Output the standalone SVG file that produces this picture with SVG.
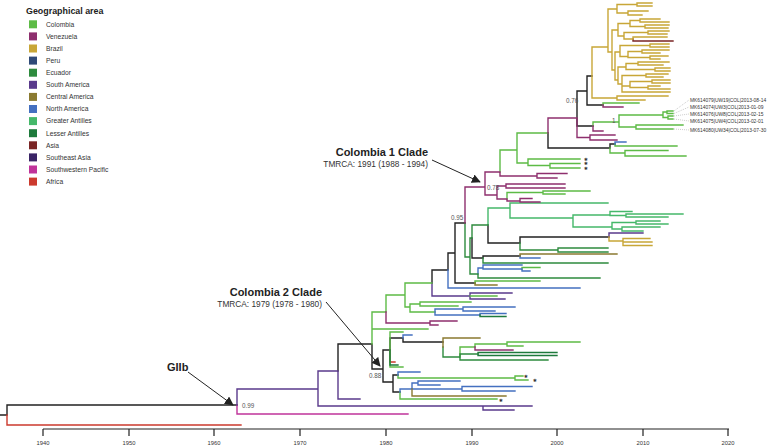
<svg xmlns="http://www.w3.org/2000/svg" width="778" height="446" viewBox="0 0 778 446">
<style>
.t{fill:none;stroke-width:1.4;stroke-linejoin:miter;stroke-linecap:square}
.k{stroke:#222}.r{stroke:#cc3a2e}.sp{stroke:#c0339a}.sa{stroke:#5a3a8c}.co{stroke:#5dbb46}.ga{stroke:#45b86a}.na{stroke:#4470c0}.ec{stroke:#2e8b3e}.la{stroke:#1e7a3c}.ve{stroke:#8e2f6e}.br{stroke:#c8a637}.as{stroke:#7a2525}.ca{stroke:#8a7a30}
text{font-family:"Liberation Sans",Arial,sans-serif}
.lt{font-size:8.9px;font-weight:bold;fill:#222}
.li{font-size:6.7px;fill:#333}
.sup{font-size:6.3px;fill:#555}
.ann{font-size:11px;font-weight:bold;fill:#222}
.tm{font-size:8.3px;fill:#333}
.mk{font-size:4.9px;fill:#333}
.ax{font-size:5.8px;fill:#333;text-anchor:middle}
.st{font-family:"DejaVu Sans",sans-serif;font-size:4.6px;fill:#333;text-anchor:middle}
.arr{stroke:#222;stroke-width:1;fill:none}
.dash{stroke:#999;stroke-width:0.5;stroke-dasharray:1 1;fill:none}
</style>
<defs>
<marker id="ah" viewBox="0 0 10 10" refX="9" refY="5" markerWidth="9" markerHeight="9" markerUnits="userSpaceOnUse" orient="auto"><path d="M0 0L10 5L0 10z" fill="#222"/></marker>
</defs>
<rect width="778" height="446" fill="#fff"/>
<g id="legend">
<text x="26" y="13.5" class="lt">Geographical area</text>
<g id="lg-colombia"><rect x="29" y="20.3" width="8" height="8" fill="#5dbb46"/><text x="46" y="26.6" class="li">Colombia</text></g>
<g id="lg-venezuela"><rect x="29" y="32.4" width="8" height="8" fill="#8e2f6e"/><text x="46" y="38.7" class="li">Venezuela</text></g>
<g id="lg-brazil"><rect x="29" y="44.5" width="8" height="8" fill="#c8a637"/><text x="46" y="50.8" class="li">Brazil</text></g>
<g id="lg-peru"><rect x="29" y="56.6" width="8" height="8" fill="#2f4a78"/><text x="46" y="62.9" class="li">Peru</text></g>
<g id="lg-ecuador"><rect x="29" y="68.7" width="8" height="8" fill="#2e8b3e"/><text x="46" y="75" class="li">Ecuador</text></g>
<g id="lg-southamerica"><rect x="29" y="80.8" width="8" height="8" fill="#5a3a8c"/><text x="46" y="87.1" class="li">South America</text></g>
<g id="lg-centralamerica"><rect x="29" y="92.9" width="8" height="8" fill="#8a7a30"/><text x="46" y="99.2" class="li">Central America</text></g>
<g id="lg-northamerica"><rect x="29" y="105" width="8" height="8" fill="#4470c0"/><text x="46" y="111.3" class="li">North America</text></g>
<g id="lg-greaterantilles"><rect x="29" y="117.1" width="8" height="8" fill="#45b86a"/><text x="46" y="123.4" class="li">Greater Antilles</text></g>
<g id="lg-lesserantilles"><rect x="29" y="129.2" width="8" height="8" fill="#1e7a3c"/><text x="46" y="135.5" class="li">Lesser Antilles</text></g>
<g id="lg-asia"><rect x="29" y="141.3" width="8" height="8" fill="#7a2525"/><text x="46" y="147.6" class="li">Asia</text></g>
<g id="lg-southeastasia"><rect x="29" y="153.4" width="8" height="8" fill="#3a2466"/><text x="46" y="159.7" class="li">Southeast Asia</text></g>
<g id="lg-swpacific"><rect x="29" y="165.5" width="8" height="8" fill="#c0339a"/><text x="46" y="171.8" class="li">Southwestern Pacific</text></g>
<g id="lg-africa"><rect x="29" y="177.6" width="8" height="8" fill="#cc3a2e"/><text x="46" y="183.9" class="li">Africa</text></g>
</g>
<g id="connectors">
<path class="t k" d="M0 415H7M7 415V405H237M338 371V344H372M372 344V369H383M432 283V270H448M448 270V253H455M455 253V223H465M455 253V283H475M472 238V258H483M488 225V243H520M520 243V237H609M483 258V256H520M548 133V148H610M610 148V144H615M577 118V91H587M577 118V126H593M587 91V76H592M587 91V105H603M383 369V350H390M383 369V382H393M390 350V338H403M403 338V342H443M393 382V375H398M393 382V392H400"/>
<path class="t r" d="M7 415V425H241M390 350V362H395"/>
<path class="t sp" d="M237 405V414H408"/>
<path class="t sa" d="M237 405V389H318M318 389V371H338M318 389V406H483M483 406H532M483 406V410H514M338 371V399H360M432 283V296H470M470 296V293H512M470 296V299H505M609 237V233H643"/>
<path class="t co" d="M372 344V312H386M372 344V329H428M386 312V295H405M405 295V283H432M405 295V307H410M410 307V304H420M410 307V312H435M420 304V302H471M420 304V306H458M470 296H497M475 283V281H540M522 269V267.5H540M507 199V192.5H543M543 192.5V191H590M543 192.5V194H565M500 172V150H517M517 150V133H548M517 150V163H528M528 163V159H580M528 163V165.5H550M550 165.5V163.5H580M550 165.5V168H580M610 148V153H625M615 144V146H677M625 153V150.5H668M625 153V156H686M593 126V122H619M619 122V115H663M619 122V127H636M663 115V112H667M663 115V117.5H668M667 112V111H673M667 112V113.5H673M668 117.5V116H673M668 117.5V119H673M636 127V125H683M636 127V129H673M603 105V103H639M390 350V332H403M398 375V378H515M515 378V376H523M515 378V380H528M400 392V399H497M460 357V347H475M475 347V344H507M507 344V342H580M507 344V346H523M390 350V367H403"/>
<path class="t ga" d="M488 225V208H510M510 208V203H608M510 208V218H573M573 218V215H610M573 218V227H612M610 215V211.5H632M610 215V215.5H626M626 215.5V214H683M626 215.5V217H668M612 227V222.5H636M612 227V229H622M636 222.5V221H660M636 222.5V224H668M622 229V227H660M622 229V231H643"/>
<path class="t na" d="M448 270V288H580M435 312V309H463M435 312V315H480M463 309V307H515M463 309V311H495M480 315V313.5H506M478 274V268H483M483 268V265H522M483 268V269H522M522 269V271H530M520 256V258H540M615 144V142H626M403 338V335H412M398 375V372H420M400 392V389H412M412 389V383H418M418 383V381H460M418 383V385H440M412 389H462M462 389V386.5H532M462 389V391H515"/>
<path class="t ec" d="M465 223V257H470M470 257V238H472M470 257V274H478M472 238V225H488M520 243V250H558M558 250V248H608M558 250V252H608M483 258V263H608M478 274V278H600M443 347V357H460M460 357V360H548M460 357V354H478"/>
<path class="t la" d="M480 315V316.5H506M478 354V352.5H557M478 354V355.5H557M390 350V365H398"/>
<path class="t ve" d="M386 312V323H430M430 323V321H457M430 323V325H438M465 223V187H485M485 187V172H500M485 187V195H497M497 195V186H506M497 195V199H507M506 186V184H565M506 186V188H565M507 199V201H520M520 201V198.5H532M520 201V202H540M500 172V176H537M537 176V173.5H567M537 176V178H557M548 133V118H577M577 118V137.5H590M590 137.5V135H615M590 137.5V140H617M593 126V131H603M603 105V107H623M475 347V350H513"/>
<path class="t ca" d="M475 283V285H497M520 256V254H617M443 347V338H480M412 389V396H506"/>
<path class="t as" d="M633 39V41H673"/>
<path class="t br" d="M623 241V238.5H650M623 241V242H652M623 241V245.5H652M609 237V241H623M592 76V47H608M592 76V98H617M617 98V96H668M617 98V100H645M608 47V9H617M608 47V52H612M617 9V4.5H637M617 9V13H628M637 4.5V3H652M637 4.5V6H652M628 13V11H648M628 13V15H642M612 52V30H618M612 52V70H615M618 30V23.5H630M618 30V36H624M630 23.5V20.5H640M630 23.5V26.5H645M640 20.5V19H660M640 20.5V22H669M645 26.5V25H669M645 26.5V28H668M624 36V32.5H648M624 36V39H633M648 32.5V31H669M648 32.5V34H667M633 39V37H667M615 70V52H620M615 70V80H618M620 52V45.5H650M620 52V56.5H628M650 45.5V44H669M650 45.5V47H669M628 56.5V51.5H642M628 56.5V57.5H650M642 51.5V50H669M642 51.5V53H660M650 57.5V56H668M650 57.5V59H660M618 80V67H626M618 80V84H622M626 67V63.5H638M626 67V69.5H655M638 63.5V62H669M638 63.5V65H663M655 69.5V68H670M655 69.5V71H670M622 84V75.5H646M622 84V86H630M622 84V92H670M646 75.5V74H668M646 75.5V77H663M630 86V81.5H652M630 86V87.5H648M652 81.5V80H670M652 81.5V83H670M648 87.5V86H660M648 87.5V89H670"/>
<path class="dash" d="M674 111L689 100M674 113.5L689 107M674 116L689 114M674 119L689 121M674 129L689 130"/>
</g>
<g id="support">
<text x="242" y="408" class="sup">0.99</text>
<text x="369" y="377.5" class="sup">0.88</text>
<text x="451" y="220" class="sup">0.95</text>
<text x="487" y="189.5" class="sup">0.78</text>
<text x="566" y="103" class="sup">0.76</text>
<text x="612" y="123" class="sup">1</text>
</g>
<g id="stars">
<text x="586" y="160.6" class="st">✱</text>
<text x="586" y="165.3" class="st">✱</text>
<text x="586" y="170" class="st">✱</text>
<text x="526" y="378" class="st">✱</text>
<text x="535" y="381.6" class="st">✱</text>
<text x="501" y="401.6" class="st">✱</text>
</g>
<g id="tip-labels">
<text x="690" y="101.5" class="mk">MK614079|UW19|COL|2013-08-14</text>
<text x="690" y="108.5" class="mk">MK614074|UW3|COL|2013-01-09</text>
<text x="690" y="115.5" class="mk">MK614076|UW8|COL|2013-02-15</text>
<text x="690" y="122.5" class="mk">MK614075|UW4|COL|2013-02-01</text>
<text x="690" y="131.5" class="mk">MK614080|UW34|COL|2013-07-30</text>
</g>
<g id="ann-giib">
<text x="167" y="371" class="ann">GIIb</text>
<path class="arr" d="M188 372L233 405" marker-end="url(#ah)"/>
</g>
<g id="ann-col2">
<text x="322" y="296" class="ann" text-anchor="end">Colombia 2 Clade</text>
<text x="322" y="307" class="tm" text-anchor="end">TMRCA: 1979 (1978 - 1980)</text>
<path class="arr" d="M326 302L380 366" marker-end="url(#ah)"/>
</g>
<g id="ann-col1">
<text x="428" y="156" class="ann" text-anchor="end">Colombia 1 Clade</text>
<text x="428" y="167" class="tm" text-anchor="end">TMRCA: 1991 (1988 - 1994)</text>
<path class="arr" d="M432 160L480 182" marker-end="url(#ah)"/>
</g>
<g id="axis">
<path d="M43 429H729M43 429V436M129 429V436M214 429V436M300 429V436M386 429V436M472 429V436M557 429V436M643 429V436M728 429V436" stroke="#222" stroke-width="1.2" fill="none"/>
<text x="43" y="445" class="ax">1940</text>
<text x="129" y="445" class="ax">1950</text>
<text x="214" y="445" class="ax">1960</text>
<text x="300" y="445" class="ax">1970</text>
<text x="386" y="445" class="ax">1980</text>
<text x="472" y="445" class="ax">1990</text>
<text x="557" y="445" class="ax">2000</text>
<text x="643" y="445" class="ax">2010</text>
<text x="728" y="445" class="ax">2020</text>
</g>
</svg>
